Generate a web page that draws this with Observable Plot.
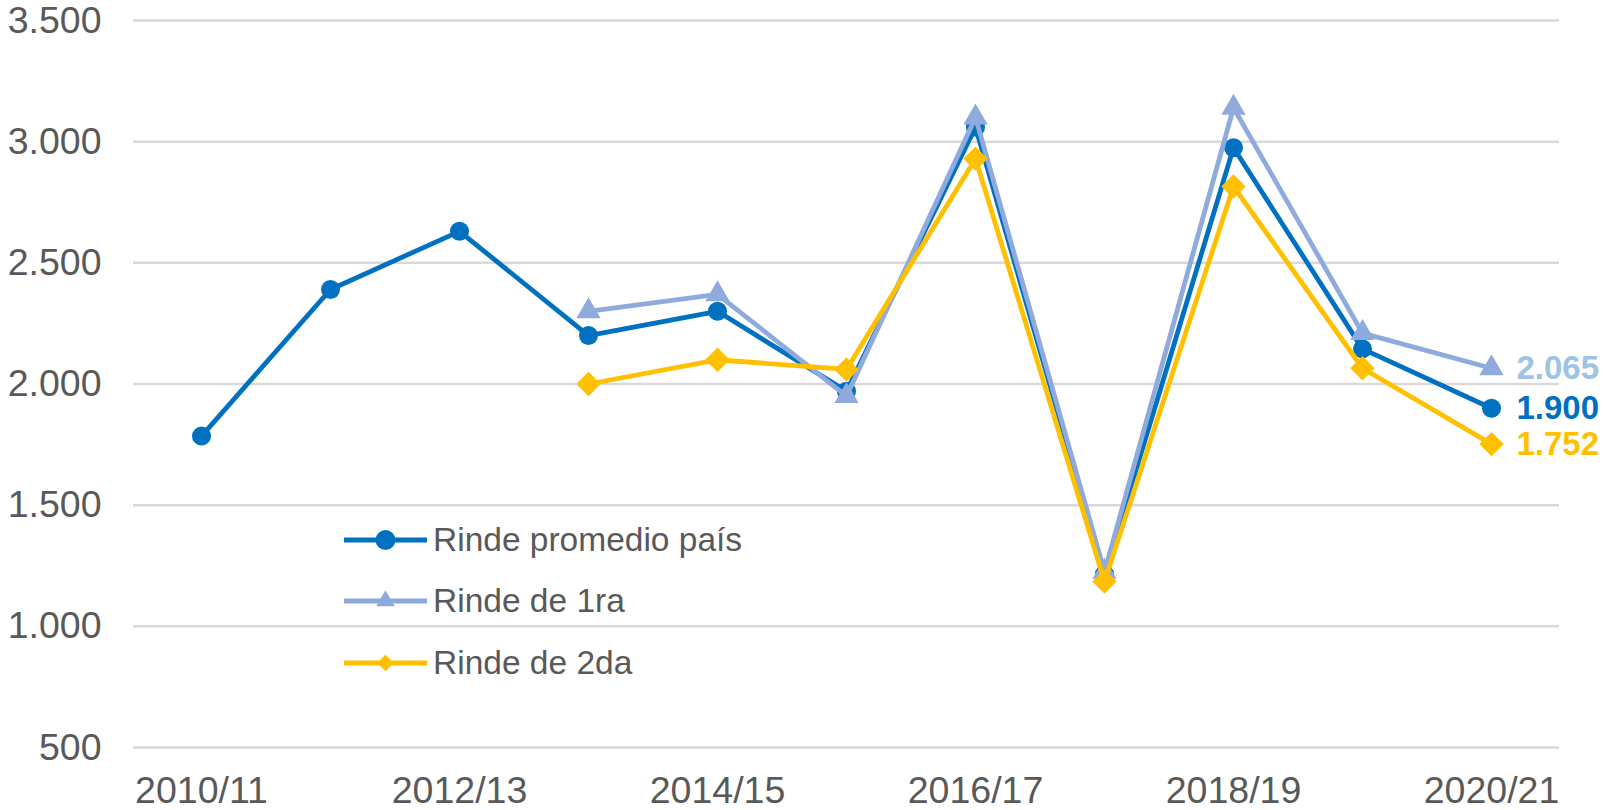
<!DOCTYPE html>
<html><head><meta charset="utf-8">
<script src="https://cdn.jsdelivr.net/npm/d3@7"></script>
<script src="https://cdn.jsdelivr.net/npm/@observablehq/plot@0.6"></script>
<style>
body{margin:0;background:#fff;}
#wrap{position:relative;width:1603px;height:810px;}
#legend{position:absolute;left:344px;top:0;font-family:"Liberation Sans",Arial,sans-serif;font-size:33.5px;color:#595959;}
.row{position:absolute;left:0;display:flex;align-items:center;white-space:nowrap;height:40px;}
.row svg{display:block;}
</style></head><body><div id="wrap"><div id="legend"></div></div>
<script>
const seasons = ["2010/11","2011/12","2012/13","2013/14","2014/15","2015/16","2016/17","2017/18","2018/19","2019/20","2020/21"];
const promedio = [1785, 2390, 2630, 2200, 2300, 1970, 3060, 1215, 2975, 2145, 1900];
const primera  = [null, null, null, 2300, 2370, 1950, 3100, 1225, 3140, 2210, 2065];
const segunda  = [null, null, null, 2000, 2100, 2060, 2930, 1185, 2815, 2065, 1752];
const seriesNames = ["Rinde promedio país", "Rinde de 1ra", "Rinde de 2da"];
const seriesValues = [promedio, primera, segunda];
const seriesColors = ["#0070C0", "#8FAADC", "#FFC000"];
const labelColors = ["#0070C0", "#9DC3E6", "#FFC000"];
const symbols = ["circle", "triangle", "diamond2"];
const markerR = [9.5, 9, 11];
const xTicks = ["2010/11","2012/13","2014/15","2016/17","2018/19","2020/21"];
const yTicks = [500, 1000, 1500, 2000, 2500, 3000, 3500];

const fmt = d => d3.format(",")(d).replace(/,/g, ".");

const seriesData = seriesNames.map((name, i) =>
  seasons.map((s, j) => ({season: s, value: seriesValues[i][j], series: name}))
         .filter(d => d.value != null));

const marks = [
  Plot.gridY(yTicks, {stroke: "#d9d9d9", strokeOpacity: 1, strokeWidth: 2.5}),
  Plot.axisY(yTicks, {tickSize: 0, tickPadding: 32, tickFormat: fmt, fontSize: 37.5, fill: "#595959"}),
  Plot.axisX(xTicks, {tickSize: 0, tickPadding: 29, fontSize: 37.5, fill: "#595959"})
];
seriesData.forEach((data, i) => {
  marks.push(Plot.line(data, {x: "season", y: "value", stroke: seriesColors[i], strokeWidth: 4.8}));
  marks.push(Plot.dot(data, {x: "season", y: "value", symbol: () => symbols[i], r: markerR[i], fill: seriesColors[i], stroke: "none"}));
});
seriesData.forEach((data, i) => {
  marks.push(Plot.text([data[data.length - 1]], {x: "season", y: "value", text: d => fmt(d.value), dx: 25, textAnchor: "start", fill: labelColors[i], fontWeight: "bold", fontSize: 33}));
});

const chart = Plot.plot({
  width: 1603, height: 810,
  marginLeft: 133, marginRight: 44, marginTop: 20, marginBottom: 63,
  style: {fontFamily: "Liberation Sans, Arial, sans-serif", fontSize: "37px", color: "#595959", background: "#fff", overflow: "visible"},
  x: {type: "point", domain: seasons, padding: 0.5, label: null},
  y: {domain: [500, 3500], label: null},
  symbol: {type: "identity"},
  marks
});
document.getElementById("wrap").prepend(chart);

// legend
const legend = d3.select("#legend");
const rowCenters = [540, 601, 663];
const legendSymbols = [d3.symbolCircle, d3.symbolTriangle, d3.symbolDiamond2];
const legendSizes = [314, 150, 170];
seriesNames.forEach((name, i) => {
  const row = legend.append("div").attr("class", "row").style("top", (rowCenters[i] - 20) + "px");
  const svg = row.append("svg").attr("width", 89).attr("height", 40);
  svg.append("line").attr("x1", 0).attr("x2", 83).attr("y1", 20).attr("y2", 20)
    .attr("stroke", seriesColors[i]).attr("stroke-width", 4.8);
  svg.append("path").attr("d", d3.symbol(legendSymbols[i], legendSizes[i])())
    .attr("transform", "translate(41.5,20)").attr("fill", seriesColors[i]);
  row.append("span").text(name);
});
</script>
</body></html>
